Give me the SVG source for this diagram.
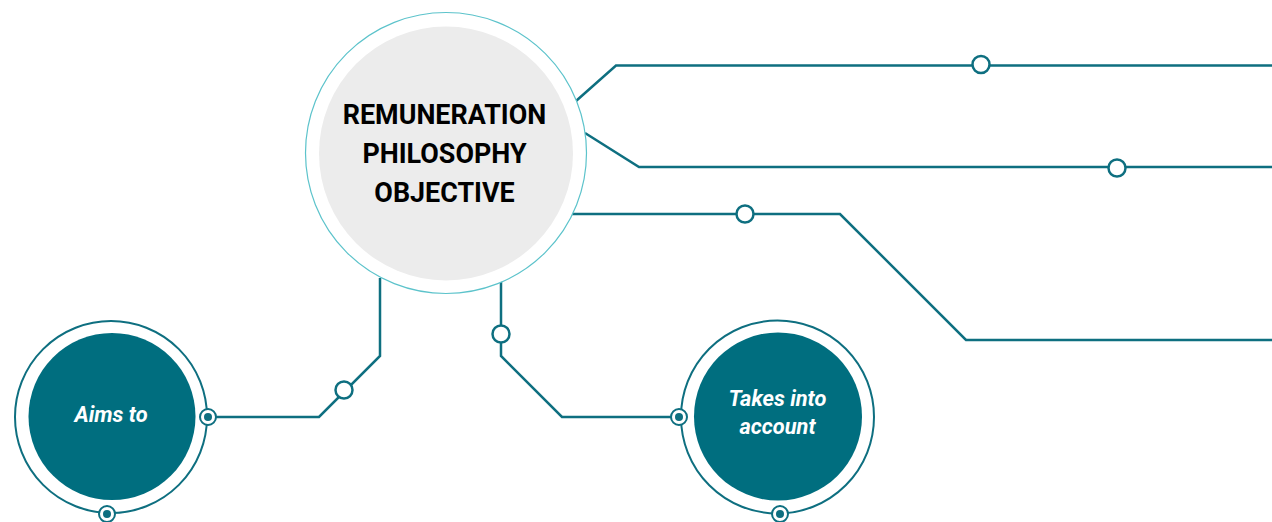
<svg xmlns="http://www.w3.org/2000/svg" width="1272" height="522" viewBox="0 0 1272 522">
<style>
.ln{fill:none;stroke:#0e6f80;stroke-width:2.5;stroke-linejoin:miter}
.dot{fill:#fff;stroke:#0e6f80;stroke-width:2.5}
.ring{fill:#fff;stroke:#0e6f80;stroke-width:2}
.core{fill:#006e7f}
.port{fill:#fff;stroke:#0e6f80;stroke-width:2}
.pin{fill:#0e6f80}
.lbl{font-family:Roboto,"Liberation Sans",sans-serif;font-weight:bold;font-style:italic;font-size:21.8px;fill:#fff;text-anchor:middle}
.title{font-family:Roboto,"Liberation Sans",sans-serif;font-weight:bold;font-size:26.9px;fill:#000;text-anchor:middle}
</style>
<rect width="1272" height="522" fill="#fff"/>
<g id="connectors">
<polyline class="ln" points="576,101 616,65.5 1272,65.5"/>
<polyline class="ln" points="585,133 639,167 1272,167"/>
<polyline class="ln" points="570,214 840,214 966,340 1272,340"/>
<polyline class="ln" points="380,278 380,356 319,417 208,417"/>
<polyline class="ln" points="501,281 501,356 562,417 679,417"/>
<circle class="dot" cx="981" cy="64.5" r="8.5"/>
<circle class="dot" cx="1117" cy="168" r="8.5"/>
<circle class="dot" cx="745" cy="214" r="8.5"/>
<circle class="dot" cx="344" cy="390" r="8.5"/>
<circle class="dot" cx="501" cy="334" r="8.5"/>
</g>
<g id="center">
<circle cx="446" cy="153" r="140.5" fill="#fff" stroke="#5cc3cb" stroke-width="1.2"/>
<circle cx="446" cy="153.5" r="127" fill="#ececec"/>
<text class="title" x="444.5" y="124">REMUNERATION</text>
<text class="title" x="444.5" y="163">PHILOSOPHY</text>
<text class="title" x="444.5" y="202">OBJECTIVE</text>
</g>
<g id="aims">
<circle class="ring" cx="111" cy="417" r="96"/>
<circle class="core" cx="112" cy="416.5" r="83.5"/>
<text class="lbl" x="111" y="422">Aims to</text>
<circle class="port" cx="208" cy="417" r="8"/>
<circle class="pin" cx="208" cy="417" r="4"/>
<circle class="port" cx="107" cy="514" r="8"/>
<circle class="pin" cx="107" cy="514" r="4"/>
</g>
<g id="takes">
<circle class="ring" cx="777.5" cy="417" r="96.5"/>
<circle class="core" cx="778" cy="416.5" r="84"/>
<text class="lbl" x="777.5" y="406">Takes into</text>
<text class="lbl" x="777.5" y="434">account</text>
<circle class="port" cx="679" cy="417" r="8"/>
<circle class="pin" cx="679" cy="417" r="4"/>
<circle class="port" cx="780" cy="514" r="8"/>
<circle class="pin" cx="780" cy="514" r="4"/>
</g>
</svg>
